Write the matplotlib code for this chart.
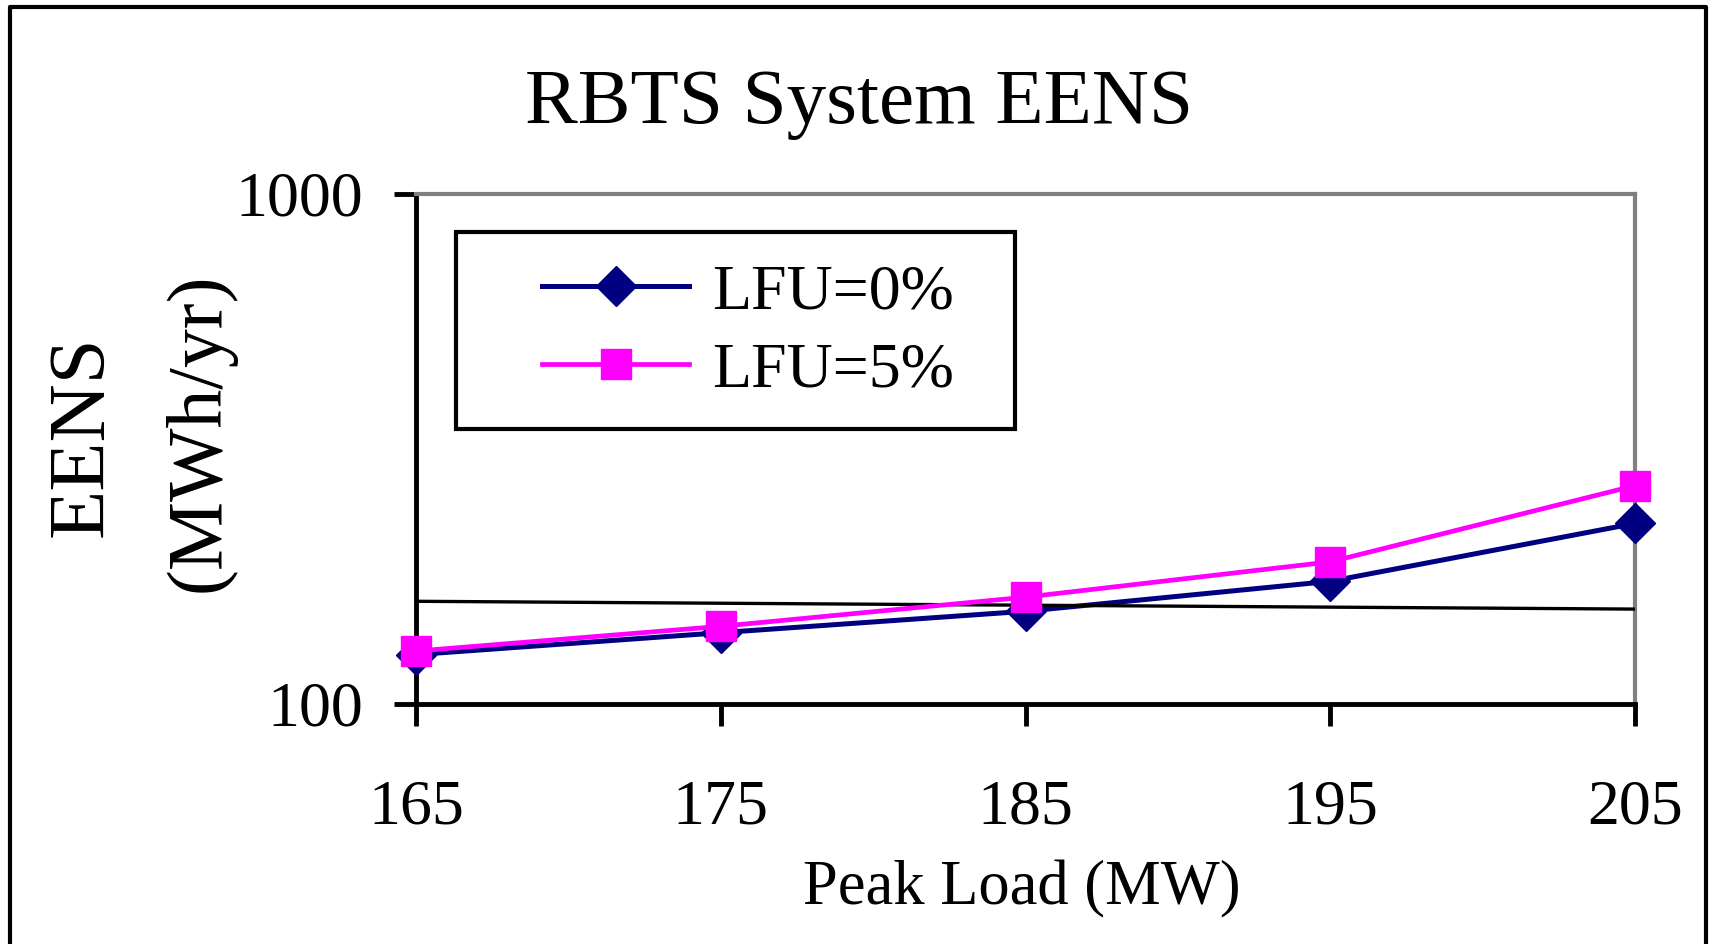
import matplotlib
matplotlib.use("Agg")
import matplotlib.pyplot as plt
from matplotlib.lines import Line2D
from matplotlib.patches import Rectangle
from matplotlib.ticker import NullLocator

plt.rcParams['font.family'] = ['Liberation Serif', 'DejaVu Serif']

# data
peak_load = [165, 175, 185, 195, 205]
eens_lfu0 = [125, 138, 152, 174, 226]
eens_lfu5 = [127, 142, 162, 190, 268]
# the thin black line that crosses the plot
stray_x = [165, 205]
stray_y = [159, 153.5]

W, H = 1711, 944
fig = plt.figure(figsize=(W / 100, H / 100), dpi=100)
ax = fig.add_axes([416 / W, 1 - 704 / H, 1219 / W, 510 / H])

ax.plot(peak_load, eens_lfu0, color='#000080', lw=3.6, marker='D', ms=20,
        label='LFU=0%', clip_on=False, zorder=3)
ax.plot(peak_load, eens_lfu5, color='#FF00FF', lw=3.4, marker='s', ms=21,
        label='LFU=5%', clip_on=False, zorder=4)
ax.plot(stray_x, stray_y, color='black', lw=2.4, zorder=3.5)

ax.set_yscale('log')
ax.set_xlim(165, 205)
ax.set_ylim(100, 1000)
ax.set_xticks(peak_load)
ax.set_xticklabels([str(v) for v in peak_load])
ax.set_yticks([100, 1000])
ax.set_yticklabels(['100', '1000'])
ax.yaxis.set_minor_locator(NullLocator())

for s in ['left', 'bottom']:
    ax.spines[s].set_linewidth(3.5)
    ax.spines[s].set_color('black')
for s in ['top', 'right']:
    ax.spines[s].set_linewidth(3)
    ax.spines[s].set_color('#808080')

ax.tick_params(axis='x', length=16, width=3.5, pad=38, labelsize=46)
ax.tick_params(axis='y', length=16, width=3.5, pad=22, labelsize=46)

# title and axis labels
fig.text(859 / W, 1 - 104 / H, 'RBTS System EENS', fontsize=57,
         ha='center', va='center')
fig.text(1022 / W, 1 - 889 / H, 'Peak Load (MW)', fontsize=45,
         ha='center', va='center')
fig.text(83 / W, 1 - 436 / H, 'EENS', fontsize=58, rotation=90,
         ha='center', va='center')
fig.text(200 / W, 1 - 432 / H, '(MWh/yr)', fontsize=56, rotation=90,
         ha='center', va='center')

# legend with a separately drawn box
leg = ax.legend(loc='center', bbox_to_anchor=(748 / W, 1 - 332 / H),
                bbox_transform=fig.transFigure, frameon=False, fontsize=46,
                handlelength=2.3, handletextpad=0.35, labelspacing=0.3,
                borderpad=0)
fig.patches.append(Rectangle((456 / W, 1 - 429 / H), 559 / W, 197 / H,
                             transform=fig.transFigure, fill=False,
                             edgecolor='black', lw=3))

# outer frame (open at the bottom)
fig.lines.append(Line2D([10 / W, 10 / W, 1706 / W, 1706 / W],
                        [0, 1 - 7 / H, 1 - 7 / H, 0],
                        transform=fig.transFigure, color='black', lw=3))

fig.savefig('out.png', dpi=100, facecolor='white')
